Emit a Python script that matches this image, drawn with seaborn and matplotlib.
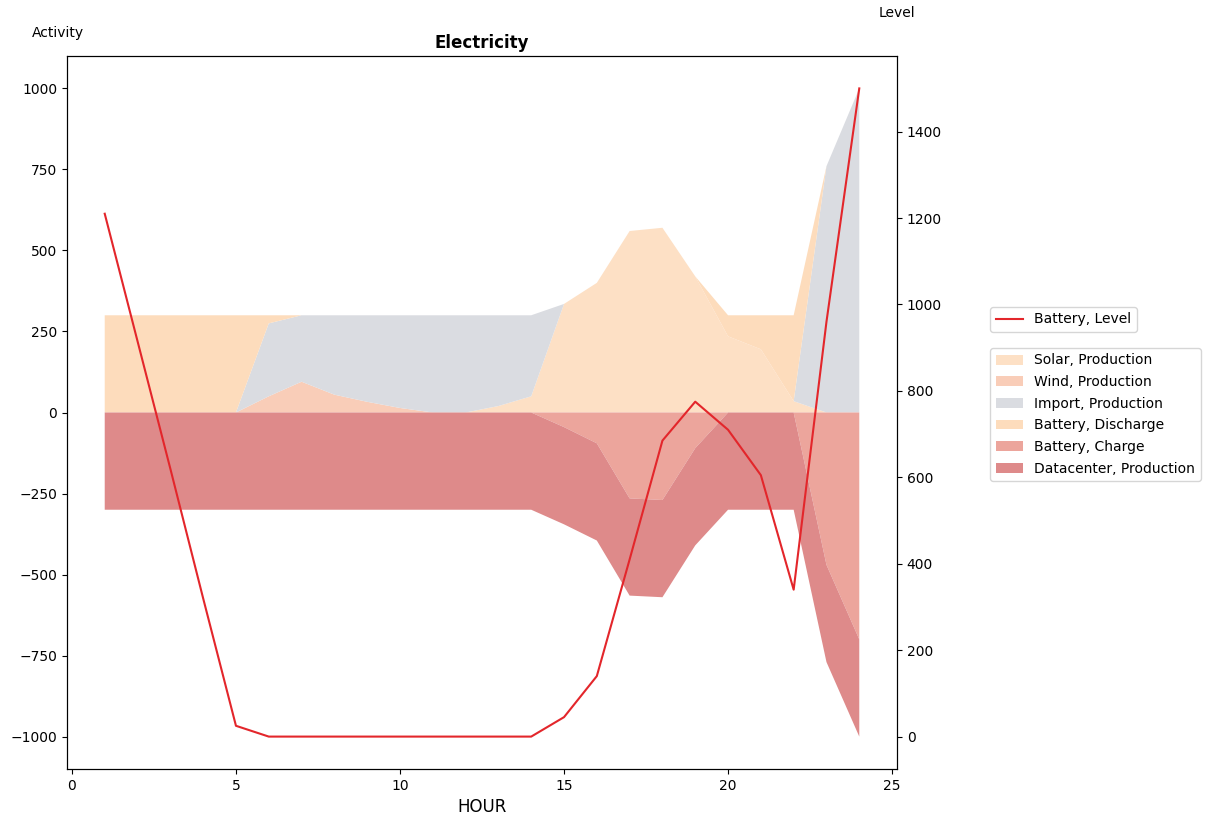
import matplotlib
matplotlib.use("Agg")
import matplotlib.pyplot as plt
import seaborn as sns
import numpy as np
import pandas as pd

hours = list(range(1, 25))
solar = [0, 0, 0, 0, 0, 0, 0, 0, 0, 0, 0, 0, 20, 50, 335, 400, 560, 570, 420, 235, 195, 35, 0, 0]
wind = [0, 0, 0, 0, 0, 50, 95, 55, 33, 14, 0, 0, 0, 0, 0, 0, 0, 0, 0, 0, 0, 0, 0, 0]
imports = [0, 0, 0, 0, 0, 225, 205, 245, 267, 286, 300, 300, 280, 250, 0, 0, 0, 0, 0, 0, 0, 0, 760, 1000]
discharge = [300, 300, 300, 300, 300, 25, 0, 0, 0, 0, 0, 0, 0, 0, 0, 0, 0, 0, 0, 65, 105, 265, 0, 0]
charge = [0, 0, 0, 0, 0, 0, 0, 0, 0, 0, 0, 0, 0, 0, 45, 95, 265, 270, 110, 0, 0, 0, 470, 700]
datacenter = [300] * 24
level = [1210, 915, 620, 320, 25, 0, 0, 0, 0, 0, 0, 0, 0, 0, 45, 140, 410, 685, 775, 710, 605, 340, 960, 1500]

pos_labels = ["Solar, Production", "Wind, Production", "Import, Production", "Battery, Discharge"]
neg_labels = ["Battery, Charge", "Datacenter, Production"]
pos_colors = ["#fde0c5", "#f9cdb8", "#dadce1", "#fddcbc"]
neg_colors = ["#eca59c", "#de8a8a"]
line_color = "#e3262b"

fig = plt.figure(figsize=(12.1, 8.18), dpi=100)
ax = fig.add_axes([67 / 1210, (818 - 769) / 818, 830 / 1210, 713 / 818])

pos_polys = ax.stackplot(hours, solar, wind, imports, discharge,
                         colors=pos_colors, labels=pos_labels, linewidth=0)
neg_polys = ax.stackplot(hours, -np.array(charge), -np.array(datacenter),
                         colors=neg_colors, labels=neg_labels, linewidth=0)

ax.set_xlabel("HOUR", fontsize=12)
ax.set_title("Electricity", fontweight="bold", fontsize=12)
ax.set_xticks([0, 5, 10, 15, 20, 25])
ax.set_yticks([-1000, -750, -500, -250, 0, 250, 500, 750, 1000])
ax.margins(x=0.05, y=0.05)

ax2 = ax.twinx()
df = pd.DataFrame({"HOUR": hours, "Level": level})
sns.lineplot(data=df, x="HOUR", y="Level", ax=ax2, color=line_color,
             linewidth=1.5, label="Battery, Level", legend=False)
ax2.set_ylabel("")
ax2.set_yticks([0, 200, 400, 600, 800, 1000, 1200, 1400])
ax2.margins(y=0.05)

fig.text(58 / 1210, 1 - 33 / 818, "Activity", ha="center", va="center", fontsize=10)
fig.text(897 / 1210, 1 - 13 / 818, "Level", ha="center", va="center", fontsize=10)

line_handles, line_labels = ax2.get_legend_handles_labels()
fig.legend(line_handles, line_labels, loc="upper left",
           bbox_to_anchor=(983 / 1210, 1 - 300 / 818), fontsize=10)
area_handles = list(pos_polys) + list(neg_polys)
area_labels = pos_labels + neg_labels
fig.legend(area_handles, area_labels, loc="upper left",
           bbox_to_anchor=(983 / 1210, 1 - 341 / 818), fontsize=10,
           labelspacing=0.55)

fig.savefig("out.png", dpi=100)
